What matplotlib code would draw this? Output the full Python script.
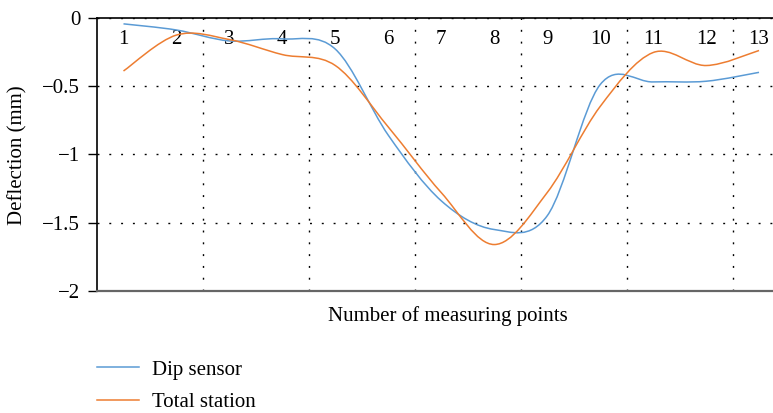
import matplotlib
matplotlib.use("Agg")
import matplotlib.pyplot as plt
from matplotlib.path import Path
from matplotlib.patches import PathPatch
from matplotlib.lines import Line2D
import numpy as np

# ---- data ----
points = [1, 2, 3, 4, 5, 6, 7, 8, 9, 10, 11, 12, 13]
point_labels = [str(p) for p in points]
dip_sensor = [-0.045, -0.09, -0.17, -0.155, -0.23, -0.86, -1.34, -1.55, -1.45, -0.49, -0.47, -0.465, -0.40]
total_station = [-0.39, -0.127, -0.16, -0.27, -0.35, -0.80, -1.28, -1.66, -1.28, -0.65, -0.255, -0.35, -0.24]
y_ticks = [0, -0.5, -1, -1.5, -2]
y_tick_labels = ["0", "\u22120.5", "\u22121", "\u22121.5", "\u22122"]
grid_x = [2.5, 4.5, 6.5, 8.5, 10.5, 12.5]

plt.rcParams['font.family'] = ['Liberation Serif', 'DejaVu Serif']
FS = 15

W, H = 773, 413
fig = plt.figure(figsize=(W / 100, H / 100), dpi=100)
left, right_px, top_px, bot_px = 97, 785.5, 17.7, 291
ax = fig.add_axes([left / W, 1 - bot_px / H, (right_px - left) / W, (bot_px - top_px) / H])
ax.set_xlim(0.5, 13.5)
ax.set_ylim(-2, 0)


def smooth_path(xs, ys):
    """Smoothed line (Catmull-Rom style Bezier through the data points)."""
    xs = np.asarray(xs, float)
    ys = np.asarray(ys, float)
    n = len(xs)
    verts = [(xs[0], ys[0])]
    codes = [Path.MOVETO]
    for i in range(n - 1):
        i0 = max(i - 1, 0)
        i3 = min(i + 2, n - 1)
        c1 = (xs[i] + (xs[i + 1] - xs[i0]) / 6, ys[i] + (ys[i + 1] - ys[i0]) / 6)
        c2 = (xs[i + 1] - (xs[i3] - xs[i]) / 6, ys[i + 1] - (ys[i3] - ys[i]) / 6)
        verts += [c1, c2, (xs[i + 1], ys[i + 1])]
        codes += [Path.CURVE4] * 3
    return Path(verts, codes)


blue = '#5B9BD5'
orange = '#ED7D31'
for ys, col in [(dip_sensor, blue), (total_station, orange)]:
    ax.add_patch(PathPatch(smooth_path(points, ys), facecolor='none', edgecolor=col, lw=1.1, zorder=3))

# grid
ax.set_xticks(grid_x, minor=True)
ax.grid(which='minor', axis='x', color='black', linestyle=(0, (1.4, 7.1)), lw=1.0)
ax.set_yticks(y_ticks)
ax.set_yticklabels(y_tick_labels, fontsize=FS)
ax.grid(which='major', axis='y', color='black', linestyle=(0, (1.4, 7.1)), lw=1.0)
ax.tick_params(axis='y', direction='out', length=6.5, width=1.0, pad=5.5, colors='black')

ax.set_xticks(points)
ax.set_xticklabels(point_labels, fontsize=FS)
ax.tick_params(axis='x', which='major', top=True, bottom=False, labeltop=True, labelbottom=False,
               length=0, pad=-22.5)
ax.tick_params(axis='x', which='minor', length=0, top=False, bottom=False)

ax.spines['right'].set_visible(False)
ax.spines['top'].set_color('black')
ax.spines['top'].set_linewidth(1.2)
ax.spines['left'].set_color('black')
ax.spines['left'].set_linewidth(1.2)
ax.spines['bottom'].set_color('#666666')
ax.spines['bottom'].set_linewidth(1.6)

fig.text(18 / W, 1 - 155 / H, 'Deflection (mm)', rotation=90, ha='center', va='center', fontsize=FS)
fig.text(448 / W, 1 - 316 / H, 'Number of measuring points', ha='center', va='center', fontsize=FS)

handles = [Line2D([], [], color=blue, lw=1.1), Line2D([], [], color=orange, lw=1.1)]
fig.legend(handles, ['Dip sensor', 'Total station'], loc='upper left',
           bbox_to_anchor=(97 / W, 1 - 360 / H), frameon=False, fontsize=FS,
           borderpad=0, borderaxespad=0, handlelength=2.0, handletextpad=0.63,
           labelspacing=0.62)

fig.savefig('out.png', dpi=100)
